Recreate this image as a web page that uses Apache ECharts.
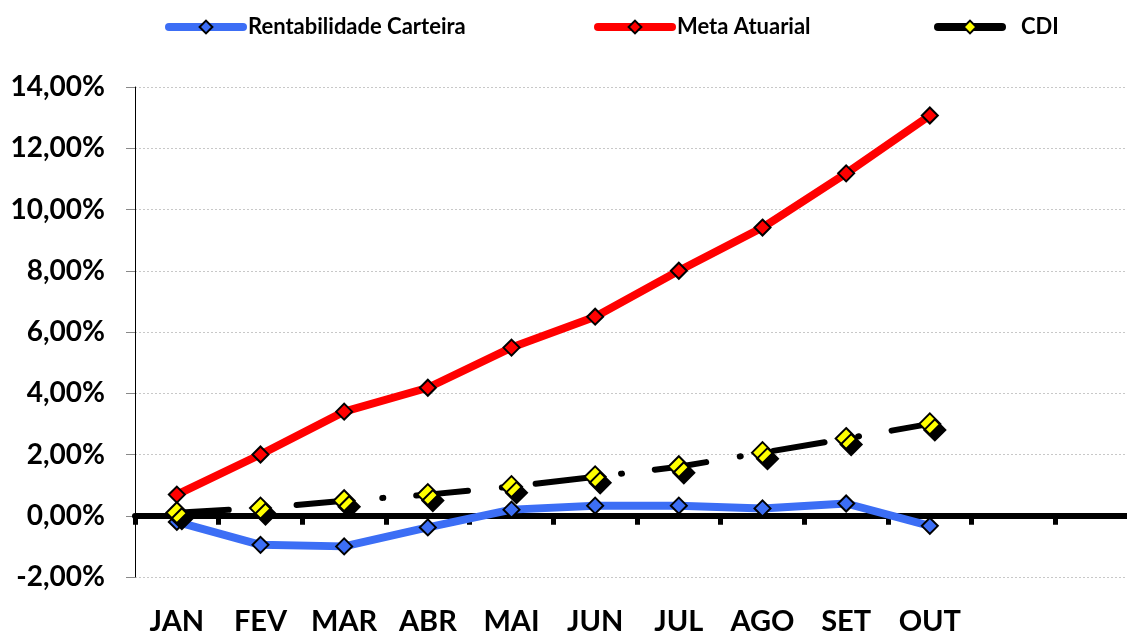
<!DOCTYPE html>
<html>
<head>
<meta charset="utf-8">
<script src="https://cdn.jsdelivr.net/npm/echarts@6/dist/echarts.min.js"></script>
<style>
html, body { margin: 0; padding: 0; background: #fff; }
#main { width: 1127px; height: 632px; }
</style>
</head>
<body>
<div id="main"></div>
<script>
// meses (NOV e DEZ sem rótulo)
const months = ['JAN', 'FEV', 'MAR', 'ABR', 'MAI', 'JUN', 'JUL', 'AGO', 'SET', 'OUT', '', ''];
const rentabilidade = [-0.20, -0.95, -1.00, -0.38, 0.20, 0.33, 0.33, 0.24, 0.40, -0.33];
const metaAtuarial = [0.69, 2.00, 3.40, 4.18, 5.49, 6.50, 8.00, 9.41, 11.18, 13.07];
const cdi = [0.10, 0.25, 0.49, 0.69, 0.95, 1.27, 1.60, 2.06, 2.52, 3.00];

const chart = echarts.init(document.getElementById('main'));
const font = 'Lato, "Open Sans", sans-serif';

function legendAt(name, left, w, pad) {
  return {
    top: 11,
    left: left,
    itemWidth: w,
    itemHeight: 16,
    lineStyle: { width: 8, type: 'solid', cap: 'round' },
    itemStyle: { shadowColor: 'transparent', shadowOffsetX: 0, shadowOffsetY: 0 },
    textStyle: { fontFamily: font, fontWeight: 'bold', fontSize: 22, color: '#000', padding: [0, 0, 0, pad] },
    data: [name]
  };
}

const option = {
  animation: false,
  legend: [
    legendAt('Rentabilidade Carteira', 160, 74, 0),
    legendAt('Meta Atuarial', 589, 74, 0),
    legendAt('CDI', 929, 64, 14)
  ],
  grid: { left: 135, top: 87, bottom: 55, width: 1004, outerBoundsMode: 'none', containLabel: false },
  xAxis: [
    {
      type: 'category',
      data: months,
      boundaryGap: true,
      axisLine: { onZero: true, lineStyle: { color: '#000', width: 6 } },
      axisTick: { show: true, length: 9, lineStyle: { color: '#000', width: 5 } },
      axisLabel: { show: false },
      z: 3
    },
    {
      type: 'category',
      data: months,
      position: 'bottom',
      boundaryGap: true,
      axisLine: { show: false, onZero: false },
      axisTick: { show: false },
      axisLabel: { interval: 0, margin: 30, fontFamily: font, fontWeight: 'bold', fontSize: 29, color: '#000' }
    }
  ],
  yAxis: {
    type: 'value',
    min: -2,
    max: 14,
    interval: 2,
    axisLine: { show: true, lineStyle: { color: '#000', width: 1 } },
    axisTick: { show: true, length: 9, lineStyle: { color: '#888' } },
    splitLine: { show: true, lineStyle: { color: '#c8c8c8', type: [2, 2] } },
    axisLabel: {
      margin: 30,
      fontFamily: font, fontWeight: 'bold', fontSize: 28, color: '#000',
      formatter: v => v.toFixed(2).replace('.', ',') + '%'
    }
  },
  series: [
    {
      name: 'Rentabilidade Carteira',
      type: 'line',
      data: rentabilidade,
      symbol: 'diamond',
      symbolSize: 16,
      lineStyle: { color: '#3C6EF5', width: 8 },
      itemStyle: { color: '#3C6EF5', borderColor: '#000', borderWidth: 2 },
      z: 4
    },
    {
      name: 'Meta Atuarial',
      type: 'line',
      data: metaAtuarial,
      symbol: 'diamond',
      symbolSize: 16,
      lineStyle: { color: '#FF0000', width: 8 },
      itemStyle: { color: '#FF0000', borderColor: '#000', borderWidth: 2 },
      z: 4
    },
    {
      name: 'CDI',
      type: 'line',
      data: cdi,
      symbol: 'diamond',
      symbolSize: 21,
      lineStyle: { color: '#000', width: 6, type: [52, 34, 1, 33], cap: 'round' },
      itemStyle: {
        color: '#FFFF00', borderColor: '#000', borderWidth: 2,
        shadowColor: '#000', shadowBlur: 0, shadowOffsetX: 5, shadowOffsetY: 6
      },
      z: 5
    }
  ]
};

chart.setOption(option);
</script>
</body>
</html>
